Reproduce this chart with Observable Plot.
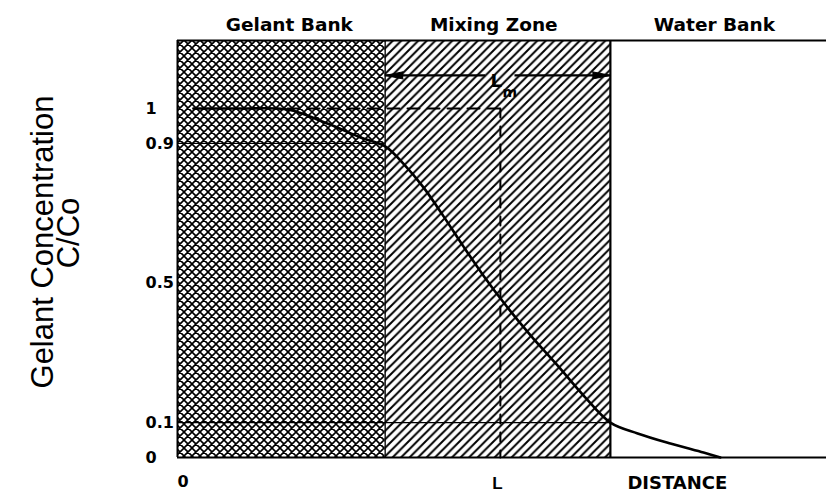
<!DOCTYPE html>
<html><head><meta charset="utf-8">
<script src="https://cdn.jsdelivr.net/npm/d3@7"></script>
<script src="https://cdn.jsdelivr.net/npm/@observablehq/plot@0.6"></script>
<style>
html,body{margin:0;padding:0;background:#fff;}
#chart svg{display:block;}
</style>
</head><body><div id="chart"></div>
<script>
// ---- data ----
const zoneNames = ["Gelant Bank", "Mixing Zone", "Water Bank"];
const zoneStart = [0, 0.64, 1.334];
const zoneEnd = [0.64, 1.334, 2.0];
const yTicks = [0, 0.1, 0.5, 0.9, 1];
const yTickLabels = ["0", "0.1", "0.5", "0.9", "1"];
const xTicks = [0, 0.995];
const xTickLabels = ["0", "L"];
const xTitle = "DISTANCE";
const yTitle = ["Gelant Concentration", "C/Co"];
const L = 0.995;           // mid-point of the mixing zone
const lmLabel = ["L", "m"];
const curveX = [0.049, 0.194, 0.339, 0.462, 0.564, 0.641, 0.696, 0.758, 0.820, 0.881, 0.943, 1.005, 1.088, 1.171, 1.251, 1.334, 1.418, 1.519, 1.621, 1.673];
const curveY = [1.0, 1.0, 0.997, 0.957, 0.917, 0.891, 0.842, 0.774, 0.691, 0.605, 0.521, 0.444, 0.350, 0.264, 0.178, 0.100, 0.069, 0.040, 0.014, 0.0];
const guideLevels = [0.9, 0.1];     // thin reference lines
const kneeX = 0.339;                // where the dashed C=1 line starts
const arrowLevel = 1.095;           // height of the L_m arrow
const arrowGap = [0.95, 1.04];      // gap around the L_m label
const yMax = 1.195;
const xMax = 2.0;

// ---- build ----
const curve = curveX.map((x, i) => ({x, y: curveY[i]}));
const zones = zoneNames.map((name, i) => ({name, x1: zoneStart[i], x2: zoneEnd[i]}));
const titleDx = [8, -4, -4];
const bold = "DejaVu Sans, sans-serif";
const sans = "Liberation Sans, Arial, Helvetica, sans-serif";

function defsMark() {
  const defs = d3.create("svg:defs");
  const p = 8;
  const ch = defs.append("pattern").attr("id", "crosshatch").attr("patternUnits", "userSpaceOnUse").attr("width", p).attr("height", p);
  ch.append("rect").attr("width", p).attr("height", p).attr("fill", "#fff");
  ch.append("path")
    .attr("d", `M-1,1 l2,-2 M0,${p} l${p},-${p} M${p-1},${p+1} l2,-2 M-1,${p-1} l2,2 M0,0 l${p},${p} M${p-1},-1 l2,2`)
    .attr("stroke", "#000").attr("stroke-width", 1.6);
  const q = 8.5;
  const h = defs.append("pattern").attr("id", "hatch").attr("patternUnits", "userSpaceOnUse").attr("width", q).attr("height", q);
  h.append("rect").attr("width", q).attr("height", q).attr("fill", "#fff");
  h.append("path")
    .attr("d", `M-1,1 l2,-2 M0,${q} l${q},-${q} M${q-1},${q+1} l2,-2`)
    .attr("stroke", "#000").attr("stroke-width", 2.0);
  return defs.node();
}

const plot = Plot.plot({
  width: 826, height: 493,
  marginLeft: 177, marginRight: 0, marginTop: 40, marginBottom: 36,
  x: {domain: [0, xMax], axis: null},
  y: {domain: [0, yMax], axis: null},
  style: {background: "#fff", color: "#000"},
  marks: [
    defsMark,
    Plot.rect(zones.slice(0, 1), {x1: "x1", x2: "x2", y1: 0, y2: yMax, fill: "url(#crosshatch)"}),
    Plot.rect(zones.slice(1, 2), {x1: "x1", x2: "x2", y1: 0, y2: yMax, fill: "url(#hatch)"}),
    // thin guide lines at 0.9 and 0.1
    Plot.ruleY(guideLevels.slice(0, 1), {x1: 0, x2: zoneEnd[0], stroke: "#000", strokeWidth: 1.2}),
    Plot.ruleY(guideLevels.slice(1, 2), {x1: 0, x2: zoneEnd[1], stroke: "#000", strokeWidth: 1.2}),
    // frame
    Plot.ruleX([0], {y1: 0, y2: yMax, strokeWidth: 2}),
    Plot.ruleY([yMax], {x1: 0, x2: xMax, strokeWidth: 2}),
    Plot.ruleY([0], {x1: 0, x2: xMax, strokeWidth: 2.2}),
    Plot.ruleX([zoneEnd[0]], {y1: 0, y2: yMax, strokeWidth: 1.3}),
    Plot.ruleX([zoneEnd[1]], {y1: 0, y2: yMax, strokeWidth: 2.2}),
    // dashed construction lines
    Plot.line([{x: kneeX, y: 1}, {x: L, y: 1}], {x: "x", y: "y", strokeWidth: 2, strokeDasharray: "12,8"}),
    Plot.line([{x: L, y: 1}, {x: L, y: 0}], {x: "x", y: "y", strokeWidth: 2, strokeDasharray: "9,9"}),
    // concentration curve
    Plot.line(curve, {x: "x", y: "y", curve: "catmull-rom", strokeWidth: 2.6}),
    // L_m double arrow: shafts + filled heads
    Plot.ruleY([{a: zoneStart[1], b: arrowGap[0]}, {a: arrowGap[1], b: zoneEnd[1]}], {y: () => arrowLevel, x1: "a", x2: "b", strokeWidth: 2.4}),
    Plot.vector([{x: zoneStart[1], r: -90}, {x: zoneEnd[1], r: 90}], {
      x: "x", y: () => arrowLevel, rotate: "r", length: 18, r: 3.6, shape: "spike", anchor: "end", fill: "#000", stroke: "#000", strokeWidth: 1
    }),
    Plot.text([lmLabel[0]], {x: L, y: arrowLevel, text: d => d, textAnchor: "start", lineAnchor: "bottom", dx: -10, dy: 12, fontSize: 18, fontWeight: "bold", fontFamily: bold}),
    Plot.text([lmLabel[1]], {x: L, y: arrowLevel, text: d => d, textAnchor: "start", lineAnchor: "bottom", dx: 2, dy: 22, fontSize: 14, fontWeight: "bold", fontFamily: bold}),
    // zone titles
    ...zones.map((z, i) => Plot.text([z], {x: d => (d.x1 + d.x2) / 2, frameAnchor: "top", text: "name", lineAnchor: "bottom", dx: titleDx[i], dy: -10, fontSize: 18.5, fontWeight: "bold", fontFamily: bold})),
    // y tick labels
    Plot.text(yTicks, {y: d => d, frameAnchor: "left", text: (d, i) => yTickLabels[i], textAnchor: "start", dx: -32, fontSize: 16, fontWeight: "bold", fontFamily: bold}),
    // x tick labels
    Plot.text(xTicks.slice(0, 1), {x: d => d, frameAnchor: "bottom", text: (d, i) => xTickLabels[i], textAnchor: "start", lineAnchor: "bottom", dy: 29, fontSize: 16, fontWeight: "bold", fontFamily: bold}),
    Plot.text(xTicks.slice(1, 2), {x: d => d, frameAnchor: "bottom", text: () => xTickLabels[1], textAnchor: "middle", lineAnchor: "bottom", dx: -3, dy: 31, fontSize: 17, fontWeight: "bold", fontFamily: sans}),
    Plot.text([xTitle], {x: zoneEnd[1], frameAnchor: "bottom", text: d => d, textAnchor: "start", lineAnchor: "bottom", dx: 17, dy: 31, fontSize: 18, fontWeight: "bold", fontFamily: bold}),
    // y title
    Plot.text([yTitle[0]], {frameAnchor: "left", text: d => d, rotate: -90, textAnchor: "middle", lineAnchor: "bottom", dx: -125, dy: -7, fontSize: 31, fontFamily: sans}),
    Plot.text([yTitle[1]], {frameAnchor: "left", text: d => d, rotate: -90, textAnchor: "middle", lineAnchor: "bottom", dx: -99, dy: -16, fontSize: 31, fontFamily: sans})
  ]
});
document.getElementById("chart").append(plot);
</script>
</body></html>
